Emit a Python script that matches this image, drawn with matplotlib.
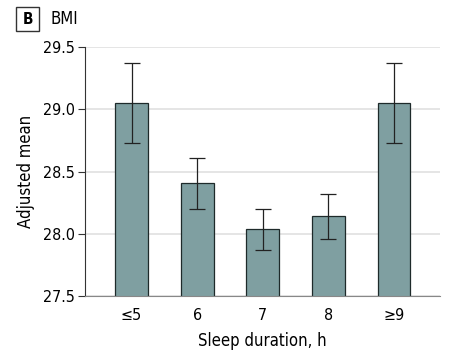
import matplotlib.pyplot as plt
from matplotlib.patches import Rectangle

plt.rcParams['font.family'] = ['DejaVu Sans']
plt.rcParams['font.stretch'] = 'condensed'

# data
categories = ["≤5", "6", "7", "8", "≥9"]
means = [29.05, 28.41, 28.04, 28.14, 29.05]
ci_low = [28.73, 28.20, 27.87, 27.96, 28.73]
ci_high = [29.37, 28.61, 28.20, 28.32, 29.37]
yticks = [27.5, 28.0, 28.5, 29.0, 29.5]

fig = plt.figure(figsize=(4.68, 3.5), dpi=100)
ax = fig.add_axes([0.1816, 0.1543, 0.7584, 0.7114])

x = list(range(len(categories)))
err = [[m - lo for m, lo in zip(means, ci_low)], [hi - m for m, hi in zip(means, ci_high)]]
ax.bar(x, means, width=0.5, bottom=0, color="#7f9fa1", edgecolor="#1e2a2a", linewidth=0.9, zorder=2)
ax.errorbar(x, means, yerr=err, fmt="none", ecolor="#222222", elinewidth=0.9, capsize=6, capthick=0.9, zorder=3)

ax.set_ylim(27.5, 29.5)
ax.set_xlim(-0.71, 4.7)
ax.set_yticks(yticks)
ax.set_yticklabels([f"{v:.1f}" for v in yticks])
ax.set_xticks(x)
ax.set_xticklabels(categories)
ax.yaxis.grid(True, color="#e0e0e0", linewidth=1.2, zorder=0)
ax.set_axisbelow(True)

for s in ["top", "right"]:
    ax.spines[s].set_visible(False)
ax.spines["left"].set_color("#333333")
ax.spines["bottom"].set_color("#888888")
ax.tick_params(axis="y", length=5, color="#333333", labelsize=11.5, pad=2)
ax.tick_params(axis="x", length=0, labelsize=11.5, pad=9)

ax.set_ylabel("Adjusted mean", fontsize=12, labelpad=6)
ax.set_xlabel("Sleep duration, h", fontsize=12, labelpad=6)

# panel label
fig.patches.append(Rectangle((16 / 468, 1 - 31 / 350), 23 / 468, 24 / 350, transform=fig.transFigure,
                             fill=False, edgecolor="#333333", linewidth=1))
fig.text(27.5 / 468, 1 - 19 / 350, "B", fontsize=11, fontweight="bold", ha="center", va="center")
fig.text(50 / 468, 1 - 19 / 350, "BMI", fontsize=12, ha="left", va="center")

fig.savefig("out.png", dpi=100)
